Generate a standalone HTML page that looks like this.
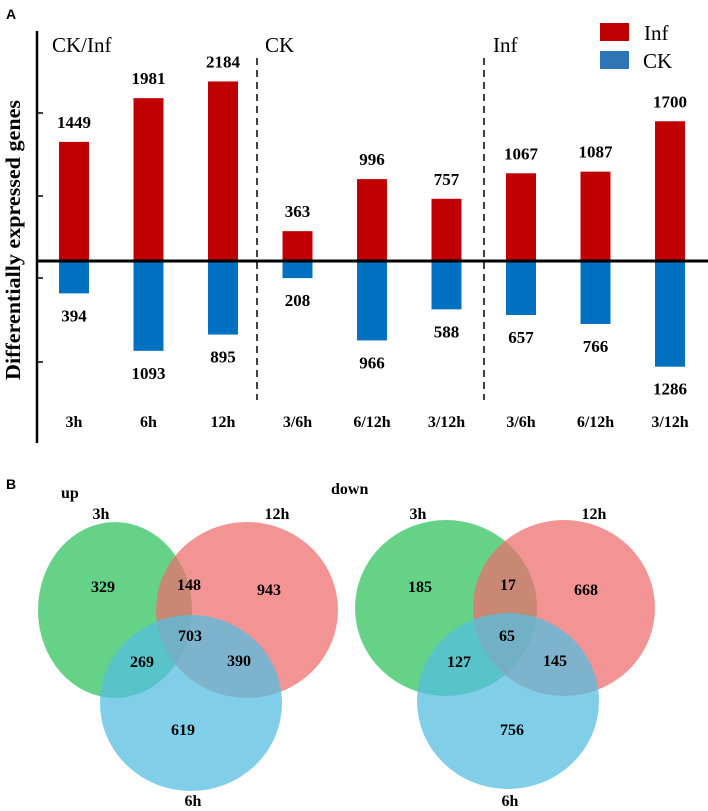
<!DOCTYPE html>
<html><head><meta charset="utf-8"><style>
html,body{margin:0;padding:0;background:#fff;}
svg{display:block;font-family:"Liberation Serif",serif;}
.v{font-weight:bold;font-size:17px;text-anchor:middle;}
.xl{font-weight:bold;font-size:16px;text-anchor:middle;}
.n{font-weight:bold;font-size:16px;text-anchor:middle;}
</style></head><body>
<svg id="chart" width="708" height="811" viewBox="0 0 708 811">
<text x="6" y="19" font-family="Liberation Sans" font-weight="bold" font-size="14">A</text>
<text x="6" y="489" font-family="Liberation Sans" font-weight="bold" font-size="14">B</text>
<g id="bars"></g>
<g id="venn"></g>
</svg>
<script>
const categories=["3h","6h","12h","3/6h","6/12h","3/12h","3/6h","6/12h","3/12h"];
const infValues=[1449,1981,2184,363,996,757,1067,1087,1700];
const ckValues=[394,1093,895,208,966,588,657,766,1286];
const groupLabels=["CK/Inf","CK","Inf"];
const upCounts=[329,148,943,703,269,390,619];
const downCounts=[185,17,668,65,127,145,756];

const NS="http://www.w3.org/2000/svg";
function mk(tag,attrs,parent,txt){const e=document.createElementNS(NS,tag);for(const k in attrs)e.setAttribute(k,attrs[k]);if(txt!==undefined)e.textContent=txt;parent.appendChild(e);return e;}
const g=document.getElementById('bars');
const base=261, k=0.0822;
const yScale=v=>base-v*k;
const xScale=i=>74+i*74.5;
const bw=30;
let e=mk('line',{x1:37,y1:31,x2:37,y2:443,stroke:'#000','stroke-width':2.5},g);


[113,196,278,362].forEach(y=>{const t=mk('line',{x1:37,y1:y,x2:43,y2:y,stroke:'#000','stroke-width':1.5},g);

});
e=mk('text',{x:0,y:0,transform:'translate(20,240) rotate(-90)','text-anchor':'middle','font-weight':'bold','font-size':21,textLength:280,lengthAdjust:'spacingAndGlyphs'},g,'Differentially expressed genes');


categories.forEach((c,i)=>{
  const cx=xScale(i);
  let r=mk('rect',{x:cx-bw/2,y:yScale(infValues[i]),width:bw,height:infValues[i]*k,fill:'#c00000'},g);
  
  
  r=mk('rect',{x:cx-bw/2,y:base,width:bw,height:ckValues[i]*k,fill:'#0070c0'},g);
  
  
  let t=mk('text',{x:cx,y:yScale(infValues[i])-14,class:'v'},g,infValues[i]);
  
  
  t=mk('text',{x:cx,y:base+ckValues[i]*k+28,class:'v'},g,ckValues[i]);
  
  
  t=mk('text',{x:cx,y:427,class:'xl'},g,c);
  
  
});
e=mk('line',{x1:36,y1:base,x2:708,y2:base,stroke:'#000','stroke-width':3},g);


[257,484].forEach(x=>{const l=mk('line',{x1:x,y1:58,x2:x,y2:400,stroke:'#000','stroke-width':1.5,'stroke-dasharray':'7,5'},g);

});
[[52,groupLabels[0]],[265,groupLabels[1]],[493,groupLabels[2]]].forEach(([x,s])=>{const t=mk('text',{x:x,y:52,'font-size':21},g,s);

});
e=mk('rect',{x:600,y:23,width:29,height:18,fill:'#c00000'},g);


e=mk('rect',{x:600,y:51,width:29,height:18,fill:'#2e75b6'},g);


e=mk('text',{x:644,y:40,'font-size':21},g,'Inf');


e=mk('text',{x:643,y:68,'font-size':21},g,'CK');



const v=document.getElementById('venn');
function venn(ox,cy,gcx,grx,counts,title,dx){
  const cols=[['#2fc25f',0.74],['#ee6b6b',0.72],['#56bde0',0.75]];
  const ell=[[gcx,cy,grx],[ox+209,cy,91],[ox+153,cy+93,91]];
  ell.forEach((p,i)=>{const c=mk('ellipse',{cx:p[0],cy:p[1],rx:p[2],ry:88,fill:cols[i][0],'fill-opacity':cols[i][1]},v);
  
  });
  const pos=[[ox+65,592],[ox+151,590],[ox+231,595],[ox+152,641],[ox+104,667],[ox+201,666],[ox+145,735]];
  counts.forEach((n,i)=>{const t=mk('text',{x:pos[i][0]+(dx[i]||0),y:pos[i][1],class:'n'},v,n);
  
  });
  [[ox+63,519,'3h'],[ox+239,519,'12h'],[ox+155,806,'6h']].forEach(p=>{const t=mk('text',{x:p[0],y:p[1],class:'n'},v,p[2]);
  
  });
  const t=mk('text',{x:ox+(title==='up'?23:-24),y:title==='up'?498:494,'font-weight':'bold','font-size':16},v,title);
  
  
}
venn(38,610,115,77,upCounts,'up',[]);
venn(355,608,446,91,downCounts,'down',[0,2,0,0,0,-1,12]);
</script>
</body></html>
